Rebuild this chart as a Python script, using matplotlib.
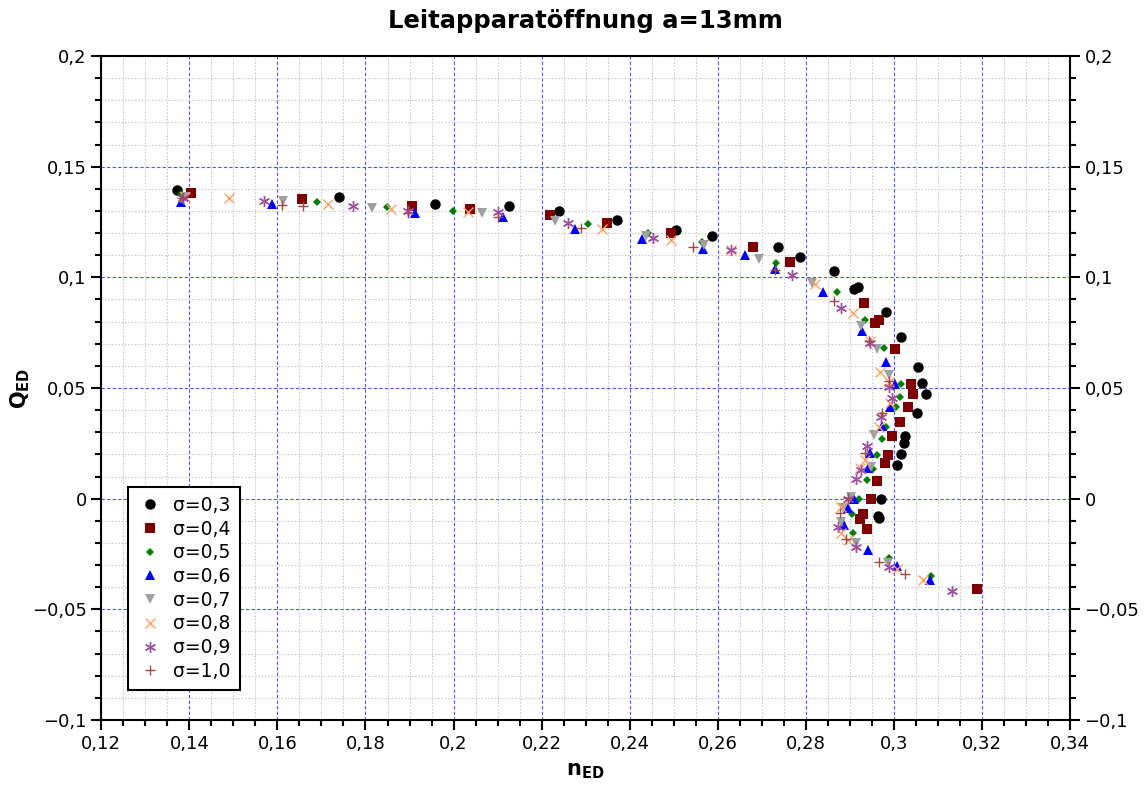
import matplotlib
matplotlib.use("Agg")
import matplotlib.pyplot as plt
from matplotlib.ticker import MultipleLocator, FuncFormatter

# sigma series (n_ED, Q_ED)
s03_n = [0.1372, 0.1740, 0.1957, 0.2126, 0.2240, 0.2371, 0.2505, 0.2586, 0.2736, 0.2786,
         0.2864, 0.2909, 0.2919, 0.2982, 0.3016, 0.3055, 0.3063, 0.3074, 0.3053, 0.3026,
         0.3023, 0.3016, 0.3008, 0.2970, 0.2963, 0.2966]
s03_q = [0.1395, 0.1364, 0.1333, 0.1322, 0.1301, 0.1259, 0.1212, 0.1187, 0.1138, 0.1092,
         0.1028, 0.0946, 0.0955, 0.0842, 0.0732, 0.0596, 0.0524, 0.0473, 0.0388, 0.0283,
         0.0250, 0.0200, 0.0153, -0.0003, -0.0077, -0.0086]

s04_n = [0.1404, 0.1655, 0.1906, 0.2037, 0.2219, 0.2349, 0.2494, 0.2680, 0.2764, 0.2932,
         0.2966, 0.2956, 0.3003, 0.3038, 0.3043, 0.3031, 0.3013, 0.2995, 0.2987, 0.2979,
         0.2961, 0.2947, 0.2929, 0.2924, 0.2938, 0.3188]
s04_q = [0.1380, 0.1354, 0.1324, 0.1309, 0.1282, 0.1247, 0.1199, 0.1138, 0.1068, 0.0885,
         0.0807, 0.0795, 0.0676, 0.0518, 0.0471, 0.0415, 0.0346, 0.0283, 0.0196, 0.0160,
         0.0080, -0.0003, -0.0071, -0.0092, -0.0137, -0.0410]

s05_n = [0.1381, 0.1689, 0.1848, 0.1999, 0.2306, 0.2442, 0.2565, 0.2733, 0.2870, 0.2934,
         0.2978, 0.3017, 0.3014, 0.3004, 0.2982, 0.2973, 0.2961, 0.2952, 0.2940, 0.2920,
         0.2904, 0.2906, 0.2989, 0.3085]
s05_q = [0.1376, 0.1342, 0.1319, 0.1300, 0.1242, 0.1202, 0.1161, 0.1066, 0.0932, 0.0807,
         0.0682, 0.0516, 0.0460, 0.0414, 0.0325, 0.0268, 0.0198, 0.0134, 0.0083, -0.0002,
         -0.0070, -0.0157, -0.0268, -0.0351]

s06_n = [0.1380, 0.1588, 0.1912, 0.2113, 0.2275, 0.2428, 0.2567, 0.2661, 0.2730, 0.2839,
         0.2928, 0.2981, 0.3002, 0.2991, 0.2972, 0.2945, 0.2941, 0.2910, 0.2896, 0.2887,
         0.2941, 0.3006, 0.3083]
s06_q = [0.1342, 0.1330, 0.1289, 0.1273, 0.1220, 0.1173, 0.1128, 0.1101, 0.1037, 0.0932,
         0.0759, 0.0616, 0.0516, 0.0415, 0.0328, 0.0208, 0.0137, -0.0002, -0.0044, -0.0119,
         -0.0232, -0.0305, -0.0368]

s07_n = [0.1390, 0.1613, 0.1814, 0.2065, 0.2230, 0.2438, 0.2568, 0.2694, 0.2815, 0.2925,
         0.2962, 0.2989, 0.2954, 0.2947, 0.2902, 0.2885, 0.2881, 0.2915, 0.2987]
s07_q = [0.1364, 0.1345, 0.1315, 0.1289, 0.1254, 0.1187, 0.1145, 0.1083, 0.0973, 0.0780,
         0.0675, 0.0559, 0.0287, 0.0144, 0.0006, -0.0044, -0.0104, -0.0199, -0.0290]

s08_n = [0.1390, 0.1490, 0.1715, 0.1859, 0.2033, 0.2336, 0.2493, 0.2631, 0.2820, 0.2906,
         0.2945, 0.2968, 0.2989, 0.2991, 0.2966, 0.2934, 0.2924, 0.2879, 0.2881, 0.2896,
         0.3006, 0.3065]
s08_q = [0.1364, 0.1357, 0.1330, 0.1309, 0.1295, 0.1220, 0.1169, 0.1123, 0.0969, 0.0837,
         0.0712, 0.0573, 0.0528, 0.0431, 0.0325, 0.0177, 0.0137, -0.0037, -0.0157, -0.0187,
         -0.0317, -0.0368]

s09_n = [0.1385, 0.1570, 0.1771, 0.1897, 0.2101, 0.2259, 0.2453, 0.2631, 0.2768, 0.2881,
         0.2945, 0.2989, 0.2995, 0.2970, 0.2940, 0.2925, 0.2914, 0.2895, 0.2874, 0.2915,
         0.2989, 0.3133]
s09_q = [0.1360, 0.1346, 0.1324, 0.1300, 0.1295, 0.1247, 0.1176, 0.1123, 0.1010, 0.0860,
         0.0702, 0.0506, 0.0456, 0.0370, 0.0238, 0.0129, 0.0089, -0.0002, -0.0130, -0.0217,
         -0.0308, -0.0416]

s10_n = [0.1383, 0.1610, 0.1657, 0.1897, 0.2101, 0.2289, 0.2543, 0.2730, 0.2864, 0.2943,
         0.2989, 0.2972, 0.2934, 0.2896, 0.2877, 0.2891, 0.2966, 0.3026]
s10_q = [0.1357, 0.1327, 0.1322, 0.1292, 0.1274, 0.1221, 0.1138, 0.1033, 0.0893, 0.0712,
         0.0531, 0.0385, 0.0208, 0.0001, -0.0066, -0.0184, -0.0285, -0.0341]

labels = ["σ=0,3", "σ=0,4", "σ=0,5", "σ=0,6", "σ=0,7", "σ=0,8", "σ=0,9", "σ=1,0"]

series = [
    (s03_n, s03_q, "o", "black", 7.5),
    (s04_n, s04_q, "s", "#800000", 7),
    (s05_n, s05_q, "D", "#008000", 4.5),
    (s06_n, s06_q, "^", "#0000ff", 6.5),
    (s07_n, s07_q, "v", "#a0a0a0", 6.5),
    (s08_n, s08_q, "x", "#ffa060", 7),
    (s09_n, s09_q, (6, 2, 0), "#a050a0", 8),
    (s10_n, s10_q, "+", "#a04848", 7),
]


def comma_fmt(v, pos):
    s = "%g" % round(v, 4)
    return s.replace(".", ",").replace("-", "\u2212")


fig = plt.figure(figsize=(11.47, 7.87), dpi=100)
ax = fig.add_axes([0.0883, 0.0851, 0.8446, 0.8437])

for (xs, ys, m, c, ms), lab in zip(series, labels):
    if m in ("x", "+") or isinstance(m, tuple):
        ax.plot(xs, ys, ls="none", marker=m, color=c, markersize=ms, mew=1.0, label=lab, zorder=3)
    else:
        ax.plot(xs, ys, ls="none", marker=m, color=c, markersize=ms, mew=0, label=lab, zorder=3)

ax.set_xlim(0.12, 0.34)
ax.set_ylim(-0.1, 0.2)
ax.xaxis.set_major_locator(MultipleLocator(0.02))
ax.xaxis.set_minor_locator(MultipleLocator(0.005))
ax.yaxis.set_major_locator(MultipleLocator(0.05))
ax.yaxis.set_minor_locator(MultipleLocator(0.01))
ax.xaxis.set_major_formatter(FuncFormatter(comma_fmt))
ax.yaxis.set_major_formatter(FuncFormatter(comma_fmt))

ax.grid(which="minor", color="#cccccc", linestyle=(0, (1.5, 1.5)), linewidth=0.8, zorder=0)
ax.grid(which="major", color="#5050ff", linestyle=(0, (3, 2)), linewidth=0.8, zorder=1)
ax.set_axisbelow(True)

for sp in ax.spines.values():
    sp.set_linewidth(1.5)

ax.tick_params(which="both", direction="out", width=1.5, labelsize=13,
               left=True, right=True, labelright=True, top=False, bottom=True)
ax.tick_params(which="major", length=7)
ax.tick_params(which="minor", length=4)

ax.set_xlabel(r"$\mathbf{n}_{\mathbf{ED}}$", fontsize=15, labelpad=6)
ax.set_ylabel(r"$\mathbf{Q}_{\mathbf{ED}}$", fontsize=15)
ax.yaxis.set_label_coords(-0.072, 0.5)
ax.set_title("Leitapparatöffnung a=13mm", fontsize=17.5, fontweight="bold", pad=20)

leg = ax.legend(loc="lower left", bbox_to_anchor=(0.028, 0.045), fontsize=13.5,
                fancybox=False, framealpha=1, edgecolor="black", labelspacing=0.25,
                handletextpad=0.6, borderpad=0.5, handlelength=1.3, borderaxespad=0)
leg.get_frame().set_linewidth(1.5)

fig.savefig("out.png", dpi=100)
